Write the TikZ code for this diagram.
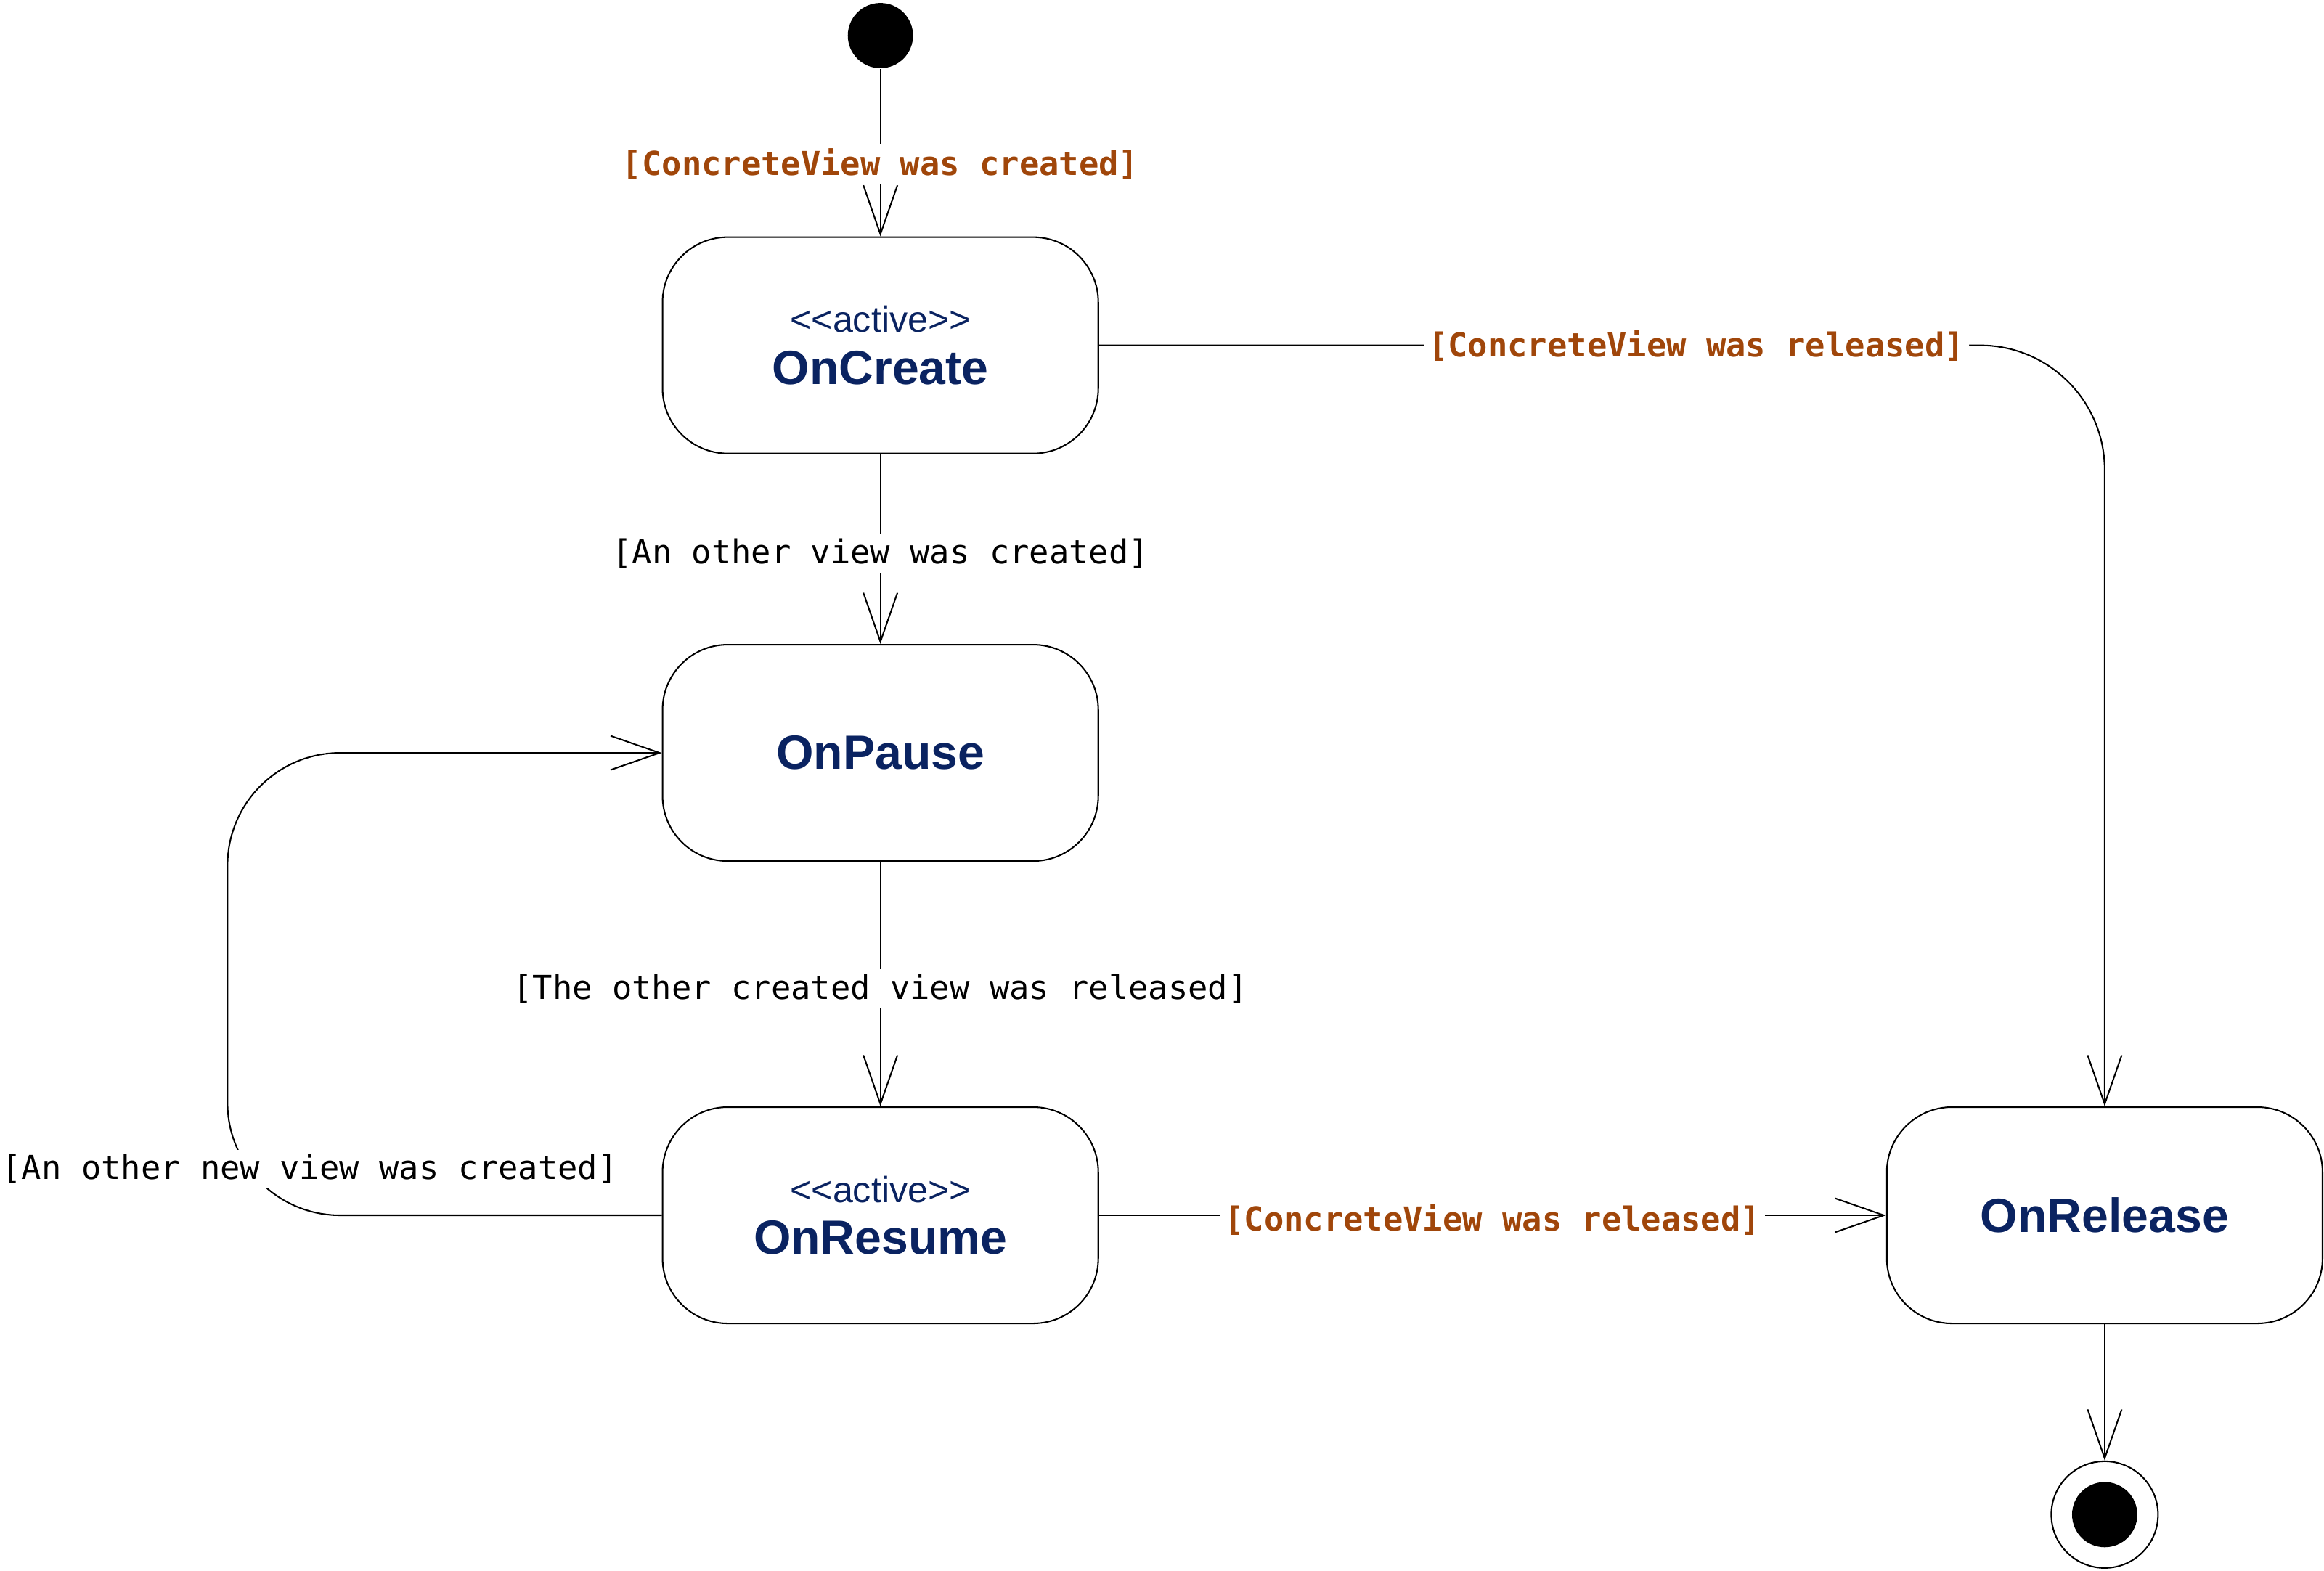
\documentclass[tikz,border=0pt]{standalone}
\usepackage{fontspec}
\usetikzlibrary{arrows.meta}
\newfontfamily\statefont{Liberation Sans}
\newfontfamily\guardfont{DejaVu Sans Mono}
\definecolor{statenavy}{RGB}{10,35,97}
\definecolor{guardbrown}{RGB}{160,70,10}
\newcommand{\stereo}[1]{{\statefont\mdseries\fontsize{12.3}{14}\selectfont <\kern0pt<#1>\kern0pt>}}

\begin{document}
\begin{tikzpicture}[x=0.5pt,y=-0.5pt,line width=0.5pt,
    state/.style={draw,rounded corners=22pt,minimum width=147pt,minimum height=73pt,
      align=center,inner sep=0pt,text=statenavy,
      font=\statefont\bfseries\fontsize{16.2}{17.5}\selectfont},
    guard/.style={fill=white,inner sep=1.5pt,yshift=-1.5pt,font=\guardfont\fontsize{11.13}{13}\selectfont},
    guardc/.style={guard,text=guardbrown,font=\guardfont\bfseries\fontsize{11.13}{13}\selectfont},
    trans/.style={-{Straight Barb[length=16.5pt,width=11.5pt]}}]

  \useasboundingbox (0,0) rectangle (1568,1060);

  % States
  \node[state] (create) at (594,233) {\stereo{active}\\OnCreate};
  \node[state] (pause) at (594,508) {OnPause};
  \node[state] (resume) at (594,820) {\stereo{active}\\OnResume};
  \node[state] (release) at (1420,820) {OnRelease};

  % Initial and final
  \node[circle,fill=black,minimum size=22pt,inner sep=0pt] (start) at (594,24) {};
  \node[circle,draw,minimum size=36pt,inner sep=0pt] (finish) at (1420,1022) {};
  \node[circle,fill=black,minimum size=22pt,inner sep=0pt] (finishdot) at (finish) {};

  % Transitions
  \draw[trans] (start) -- node[guardc,pos=0.54] (gcreated) {[ConcreteView was created]} (create);
  \draw[trans] (create) -- node[guard] (gother) {[An other view was created]} (pause);
  \draw[trans] (pause) -- node[guard] (gback) {[The other created view was released]} (resume);
  \draw[trans] (resume) -- node[guardc] (greleased) {[ConcreteView was released]} (release);
  \draw[trans,rounded corners=42pt] (create) -| node[guardc,pos=0.297,yshift=1.5pt] (greleasedtop) {[ConcreteView was released]} (release);
  \draw[trans,rounded corners=38pt] (resume.west) -- ++(-293,0) |- (pause.west);
  \node[guard] (gnew) at (209,786) {[An other new view was created]};
  \draw[trans] (release) -- (finish);

\end{tikzpicture}
\end{document}
